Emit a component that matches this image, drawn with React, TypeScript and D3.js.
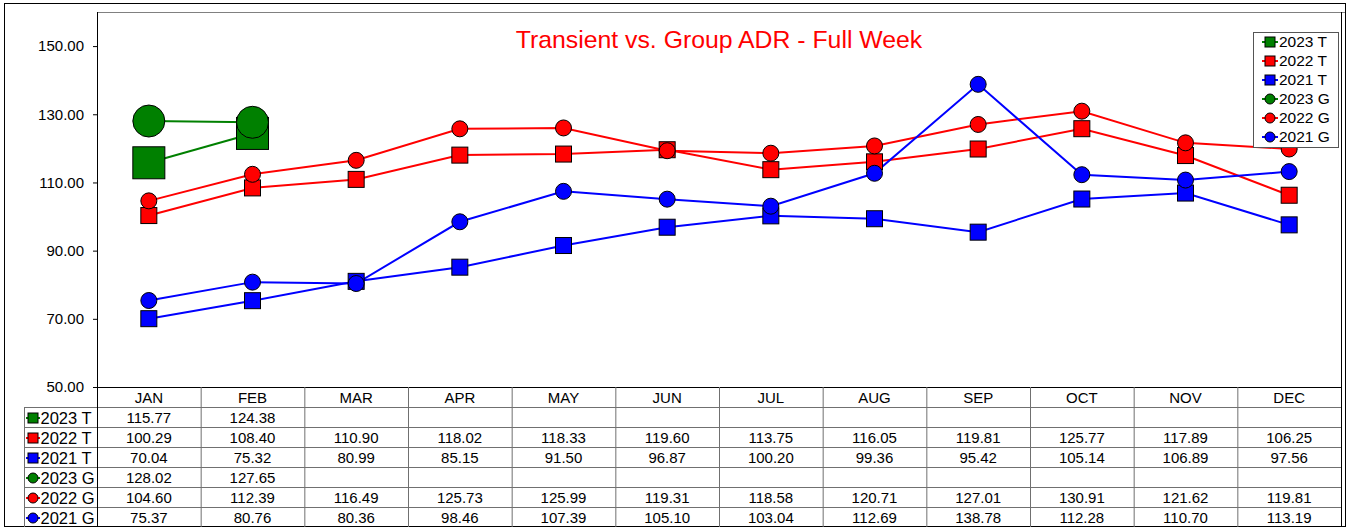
import React from 'react'
import { scaleBand, scaleLinear, line } from 'd3'

const months = ['JAN', 'FEB', 'MAR', 'APR', 'MAY', 'JUN', 'JUL', 'AUG', 'SEP', 'OCT', 'NOV', 'DEC']
const yTicks = [50, 70, 90, 110, 130, 150]

const t2023 = [115.77, 124.38]
const t2022 = [100.29, 108.40, 110.90, 118.02, 118.33, 119.60, 113.75, 116.05, 119.81, 125.77, 117.89, 106.25]
const t2021 = [70.04, 75.32, 80.99, 85.15, 91.50, 96.87, 100.20, 99.36, 95.42, 105.14, 106.89, 97.56]
const g2023 = [128.02, 127.65]
const g2022 = [104.60, 112.39, 116.49, 125.73, 125.99, 119.31, 118.58, 120.71, 127.01, 130.91, 121.62, 119.81]
const g2021 = [75.37, 80.76, 80.36, 98.46, 107.39, 105.10, 103.04, 112.69, 138.78, 112.28, 110.70, 113.19]

const seriesNames = ['2023 T', '2022 T', '2021 T', '2023 G', '2022 G', '2021 G']

const series = [
    { name: seriesNames[0], values: t2023, color: '#008000', shape: 'square', big: true },
    { name: seriesNames[1], values: t2022, color: '#ff0000', shape: 'square', big: false },
    { name: seriesNames[2], values: t2021, color: '#0000ff', shape: 'square', big: false },
    { name: seriesNames[3], values: g2023, color: '#008000', shape: 'circle', big: true },
    { name: seriesNames[4], values: g2022, color: '#ff0000', shape: 'circle', big: false },
    { name: seriesNames[5], values: g2021, color: '#0000ff', shape: 'circle', big: false },
]

const W = 1356
const H = 529
const plot = { left: 97, top: 12, right: 1341, bottom: 387 }
const headerH = 20
const rowH = 20
const labelLeft = 24
const font = '"Liberation Sans", Arial, sans-serif'

function Marker({ shape, x, y, size, color }) {
    if (shape === 'square') {
        return <rect x={x - size / 2} y={y - size / 2} width={size} height={size}
                     fill={color} stroke="#000" strokeWidth={1}/>
    }
    return <circle cx={x} cy={y} r={size / 2} fill={color} stroke="#000" strokeWidth={1}/>
}

export default function App() {
    const xScale = scaleBand().domain(months).range([plot.left, plot.right]).padding(0)
    const bw = xScale.bandwidth()
    const cx = (i) => (xScale(months[i]) || 0) + bw / 2
    const yScale = scaleLinear().domain([50, 160]).range([plot.bottom, plot.top])

    const lineGen = line()
        .x((d) => cx(d[0]))
        .y((d) => yScale(d[1]))

    const tableTop = plot.bottom + headerH

    return (
        <div style={{ position: 'absolute', left: 0, top: 0 }}>
            <svg width={W} height={H} style={{ display: 'block', fontFamily: font }}>
                <rect x={0} y={0} width={W} height={H} fill="#fff"/>
                {/* outer frame */}
                <rect x={4.5} y={3.5} width={1341} height={523} fill="none" stroke="#000" strokeWidth={1}/>

                {/* plot frame */}
                <line x1={plot.left} x2={plot.right + 4} y1={plot.top + 0.5} y2={plot.top + 0.5} stroke="#808080"/>
                <line x1={plot.left + 0.5} x2={plot.left + 0.5} y1={plot.top} y2={plot.bottom} stroke="#000"/>
                <line x1={plot.right + 0.5} x2={plot.right + 0.5} y1={plot.top} y2={H - 3} stroke="#000"/>

                {/* y axis */}
                {yTicks.map((t) => (
                    <g key={t}>
                        <line x1={plot.left - 4} x2={plot.left} y1={yScale(t) + 0.5} y2={yScale(t) + 0.5} stroke="#000"/>
                        <text x={84} y={yScale(t)} dy="0.35em" textAnchor="end" fontSize={15} fill="#000">
                            {t.toFixed(2)}
                        </text>
                    </g>
                ))}

                {/* title */}
                <text x={(plot.left + plot.right) / 2} y={48} textAnchor="middle" fontSize={24.8} fill="#ff0000">
                    Transient vs. Group ADR - Full Week
                </text>

                {/* series */}
                {series.map((s) => (
                    <path key={s.name + 'l'} d={lineGen(s.values.map((v, i) => [i, v])) || ''}
                          fill="none" stroke={s.color} strokeWidth={2}/>
                ))}
                {series.map((s) => (
                    <g key={s.name + 'm'}>
                        {s.values.map((v, i) => (
                            <Marker key={i} shape={s.shape} x={cx(i)} y={yScale(v)}
                                    size={s.big ? 32 : 16} color={s.color}/>
                        ))}
                    </g>
                ))}

                {/* legend */}
                <rect x={1253.5} y={32.5} width={85} height={115} fill="#fff" stroke="#555"/>
                {series.map((s, i) => {
                    const y = 42 + i * 19
                    return (
                        <g key={s.name + 'lg'}>
                            <line x1={1262} x2={1278} y1={y} y2={y} stroke={s.color} strokeWidth={2}/>
                            <Marker shape={s.shape} x={1270} y={y} size={10} color={s.color}/>
                            <text x={1279} y={y} dy="0.35em" fontSize={15.5} fill="#000">{s.name}</text>
                        </g>
                    )
                })}

                {/* data table */}
                <line x1={plot.left} x2={plot.right} y1={plot.bottom + 0.5} y2={plot.bottom + 0.5} stroke="#000"/>
                {months.map((m, i) => (
                    <text key={m} x={cx(i)} y={plot.bottom + headerH / 2 + 1} dy="0.35em" textAnchor="middle"
                          fontSize={15} fill="#000">{m}</text>
                ))}
                {months.map((m, i) => i > 0 ? (
                    <line key={m + 'v'} x1={(xScale(m) || 0) + 0.5} x2={(xScale(m) || 0) + 0.5}
                          y1={plot.bottom} y2={tableTop + rowH * 6} stroke="#707070"/>
                ) : null)}
                {series.map((s, r) => (
                    <line key={s.name + 'h'} x1={labelLeft} x2={plot.right}
                          y1={tableTop + r * rowH + 0.5} y2={tableTop + r * rowH + 0.5} stroke="#707070"/>
                ))}
                <line x1={labelLeft + 0.5} x2={labelLeft + 0.5} y1={tableTop} y2={tableTop + rowH * 6} stroke="#707070"/>
                <line x1={plot.left + 0.5} x2={plot.left + 0.5} y1={plot.bottom} y2={tableTop + rowH * 6} stroke="#000"/>
                {series.map((s, r) => {
                    const y = tableTop + r * rowH + rowH / 2 + 1
                    return (
                        <g key={s.name + 't'}>
                            <line x1={26} x2={40} y1={y} y2={y} stroke={s.color} strokeWidth={2}/>
                            <Marker shape={s.shape} x={33} y={y} size={10} color={s.color}/>
                            <text x={40.5} y={y} dy="0.35em" fontSize={16.5} fill="#000">{s.name}</text>
                            {s.values.map((v, i) => (
                                <text key={i} x={cx(i)} y={y} dy="0.35em" textAnchor="middle" fontSize={15}
                                      fill="#000">{v.toFixed(2)}</text>
                            ))}
                        </g>
                    )
                })}
            </svg>
        </div>
    )
}
